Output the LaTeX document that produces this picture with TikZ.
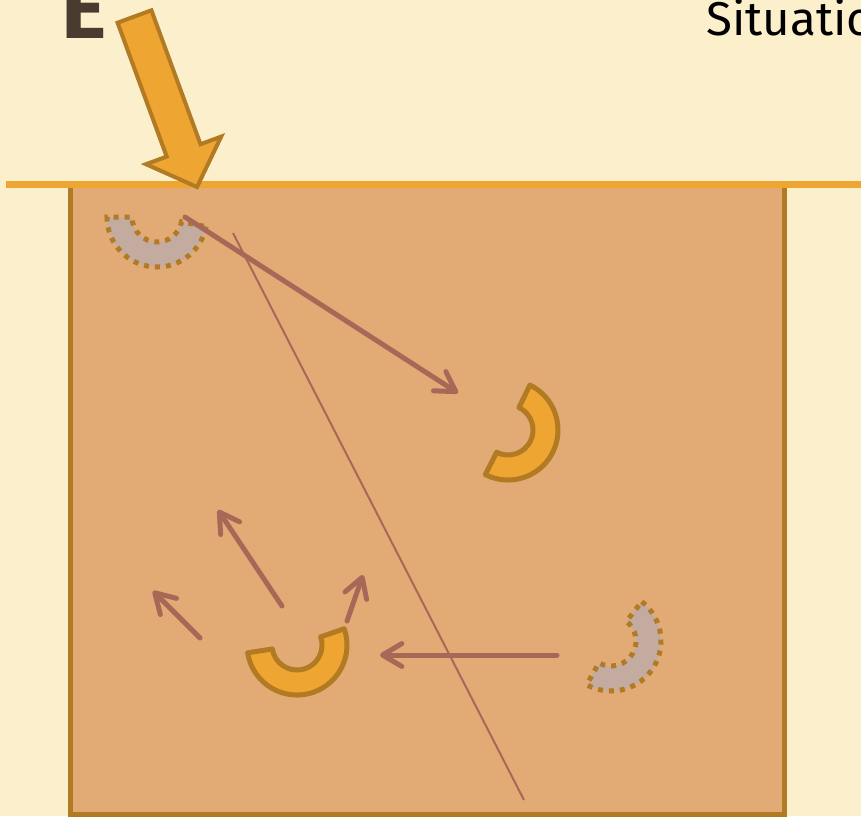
\documentclass[tikz,border=0pt]{standalone}
\usepackage{fontspec}
\newfontfamily\labelfont{Fira Sans}
\usepackage{tikz}
\usetikzlibrary{arrows.meta}
\definecolor{PaperCream}{RGB}{252,239,204}
\definecolor{SoilTan}{RGB}{226,171,117}
\definecolor{EdgeBrown}{RGB}{178,122,34}
\definecolor{SurfOrange}{RGB}{239,165,49}
\definecolor{PathRed}{RGB}{168,104,88}
\definecolor{GhostGrey}{RGB}{196,171,160}
\definecolor{InkBrown}{RGB}{74,59,49}
\tikzset{
  soil/.style={fill=SoilTan, draw=EdgeBrown, line width=0.1cm},
  surface/.style={draw=SurfOrange, line width=0.14cm},
  beam/.style={fill=SurfOrange, draw=EdgeBrown, line width=0.08cm, miter limit=20},
  ringsolid/.style={fill=SurfOrange, draw=EdgeBrown, line width=0.1cm, line join=round},
  ringghost/.style={fill=GhostGrey, draw=EdgeBrown, line width=0.1cm, dash pattern=on 0.1cm off 0.12cm},
  track/.style={-{Straight Barb[round, length=11pt, width=13pt]}, PathRed, line width=0.1cm, line cap=round},
  trackthin/.style={PathRed, line width=0.04cm},
  pics/halfring/.style args={#1:#2}{code={
    \path[pic actions] (#1:50) arc[start angle=#1, end angle=#2, radius=50]
      -- (#2:25) arc[start angle=#2, end angle=#1, radius=25] -- cycle;
  }},
}

\begin{document}
\begin{tikzpicture}[x=0.02cm, y=-0.02cm]
  \path[use as bounding box, fill=PaperCream] (0,0) rectangle (861,816);
  \clip (0,0) rectangle (861,816);
  \draw[soil] (70.5,184.5) rectangle (784.5,814.5);
  \draw[surface] (6,184.5) -- (861,184.5);

  \coordinate (cutfrom) at (233,233);
  \coordinate (cutto) at (524,800);
  \draw[trackthin] (cutfrom) -- (cutto);

  \pic[ringghost] at (157,217) {halfring={11:180}};
  \pic[ringghost] at (611,641) {halfring={-52:119}};
  \pic[ringsolid] at (508,430) {halfring={-64:117}};
  \pic[ringsolid] at (297,645) {halfring={-19:171}};

  \coordinate (hitfrom) at (185,217);
  \coordinate (hitto) at (458,393);
  \coordinate (backfrom) at (557,655);
  \coordinate (backto) at (380,655);
  \coordinate (outAfrom) at (200,638);
  \coordinate (outAto) at (153,591);
  \coordinate (outBfrom) at (282,606);
  \coordinate (outBto) at (218,510);
  \coordinate (outCfrom) at (347,621);
  \coordinate (outCto) at (363,575);
  \draw[track] (hitfrom) -- (hitto);
  \draw[track] (backfrom) -- (backto);
  \draw[track] (outAfrom) -- (outAto);
  \draw[track] (outBfrom) -- (outBto);
  \draw[track] (outCfrom) -- (outCto);

  \draw[beam] (117.6,22.7) -- (151.4,10.3) -- (200.5,144.2) -- (221.2,136.6)
    -- (197,187) -- (146,164.2) -- (166.7,156.6) -- cycle;

  \node[font=\labelfont\bfseries\fontsize{49}{49}\selectfont, text=InkBrown,
    anchor=base west, inner sep=0pt] (letter) at (61,38) {E};
  \node[font=\labelfont\fontsize{27}{27}\selectfont, text=black,
    anchor=base west, inner sep=0pt] (title) at (706,35) {Situatio};
\end{tikzpicture}
\end{document}
